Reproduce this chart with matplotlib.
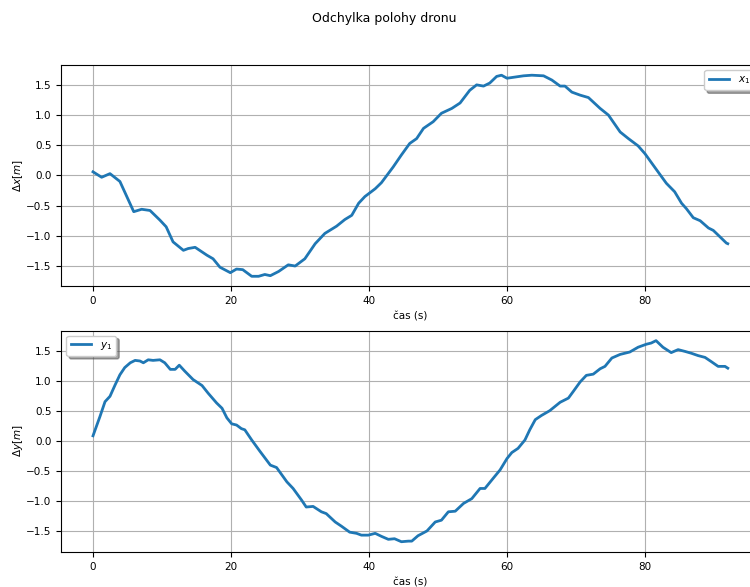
import matplotlib.pyplot as plt
import numpy as np

plt.rcParams['font.size'] = 7.5

# x deviation samples (time [s], value [m])
t_x = [0, 1.25, 2.46, 3.9, 4.9, 5.9, 7.05, 8.26, 9.7, 10.6, 11.6, 13.1, 13.8, 14.8,
       16.5, 17.4, 18.4, 19.9, 20.8, 21.7, 23.0, 24.0, 24.9, 25.7, 26.9, 28.3, 29.3,
       30.7, 32.2, 33.6, 35.3, 36.5, 37.5, 38.5, 39.4, 40.9, 41.8, 43.5, 44.7, 45.9,
       46.9, 47.9, 49.3, 50.5, 52.0, 53.2, 54.6, 55.6, 56.6, 57.5, 58.5, 59.2, 60.0,
       61.2, 62.4, 63.6, 65.3, 66.5, 67.7, 68.4, 69.4, 70.6, 71.8, 73.5, 74.7, 76.4,
       77.6, 79.0, 80.0, 81.7, 83.1, 84.3, 85.3, 86.0, 87.0, 88.0, 89.2, 89.9, 90.9,
       91.8, 92.0]
x1 = [0.06, -0.03, 0.03, -0.10, -0.35, -0.60, -0.56, -0.58, -0.74, -0.85, -1.10,
      -1.24, -1.21, -1.19, -1.32, -1.38, -1.52, -1.61, -1.55, -1.56, -1.67, -1.67,
      -1.64, -1.66, -1.59, -1.48, -1.50, -1.38, -1.13, -0.96, -0.84, -0.73, -0.66,
      -0.46, -0.35, -0.22, -0.12, 0.14, 0.34, 0.53, 0.61, 0.78, 0.89, 1.03, 1.11,
      1.20, 1.41, 1.50, 1.48, 1.53, 1.64, 1.66, 1.61, 1.63, 1.65, 1.66, 1.65, 1.58,
      1.48, 1.48, 1.38, 1.33, 1.29, 1.11, 1.00, 0.72, 0.61, 0.49, 0.36, 0.09, -0.13,
      -0.27, -0.46, -0.55, -0.70, -0.75, -0.87, -0.91, -1.02, -1.12, -1.13]

# y deviation samples (time [s], value [m])
t_y = [0, 1.0, 1.74, 2.46, 3.2, 3.9, 4.6, 5.4, 6.1, 6.8, 7.3, 8.0, 8.7, 9.7, 10.4,
       11.2, 11.9, 12.5, 13.3, 14.5, 15.8, 16.7, 17.9, 18.7, 19.4, 20.1, 20.8, 21.5,
       22.0, 23.0, 24.2, 25.7, 26.6, 28.1, 29.0, 30.2, 30.9, 31.9, 33.1, 33.8, 35.1,
       36.0, 37.2, 38.2, 38.9, 39.9, 40.9, 41.8, 42.8, 43.7, 44.7, 45.7, 46.2, 47.1,
       48.4, 49.6, 50.5, 51.5, 52.5, 53.7, 54.9, 56.1, 56.8, 58.0, 59.0, 60.0, 60.7,
       61.6, 62.6, 63.3, 64.1, 65.0, 66.2, 67.7, 68.9, 69.6, 70.6, 71.5, 72.5, 73.5,
       74.2, 75.2, 76.4, 77.8, 79.0, 80.2, 80.9, 81.6, 82.6, 83.8, 84.8, 85.8, 86.7,
       87.7, 88.7, 89.6, 90.6, 91.6, 92.0]
y1 = [0.09, 0.41, 0.66, 0.75, 0.94, 1.11, 1.23, 1.31, 1.35, 1.34, 1.31, 1.36, 1.35,
      1.36, 1.31, 1.20, 1.20, 1.27, 1.17, 1.03, 0.93, 0.80, 0.64, 0.55, 0.39, 0.29,
      0.27, 0.21, 0.19, 0.02, -0.17, -0.40, -0.44, -0.68, -0.79, -0.98, -1.10, -1.09,
      -1.18, -1.21, -1.35, -1.42, -1.52, -1.54, -1.57, -1.57, -1.54, -1.59, -1.64,
      -1.63, -1.68, -1.67, -1.67, -1.58, -1.50, -1.35, -1.32, -1.18, -1.17, -1.04,
      -0.96, -0.79, -0.79, -0.62, -0.48, -0.29, -0.19, -0.12, 0.02, 0.19, 0.36, 0.43,
      0.51, 0.65, 0.72, 0.83, 0.99, 1.10, 1.12, 1.21, 1.25, 1.39, 1.45, 1.49, 1.57,
      1.62, 1.64, 1.68, 1.57, 1.48, 1.53, 1.50, 1.47, 1.43, 1.40, 1.33, 1.25, 1.25,
      1.22]

fig, (ax1, ax2) = plt.subplots(2, 1, figsize=(7.5, 5.87), dpi=100)
fig.suptitle('Odchylka polohy dronu', fontsize=9, x=0.5117)

ax1.plot(t_x, x1, linewidth=2, label='$x_1$')
ax1.set_xlabel('čas (s)')
ax1.set_ylabel(r'$\Delta x [m]$', labelpad=1)
ax1.grid(True)
ax1.legend(loc='upper right', shadow=True)

ax2.plot(t_y, y1, linewidth=2, label='$y_1$')
ax2.set_xlabel('čas (s)')
ax2.set_ylabel(r'$\Delta y [m]$', labelpad=1)
ax2.grid(True)
ax2.legend(loc='upper left', shadow=True)

for ax in (ax1, ax2):
    ax.set_yticks([-1.5, -1.0, -0.5, 0.0, 0.5, 1.0, 1.5])

# the right edge runs a little past the canvas
plt.subplots_adjust(left=0.0817, right=1.0127, top=0.889, bottom=0.06, hspace=0.2)
plt.savefig('out.png')
